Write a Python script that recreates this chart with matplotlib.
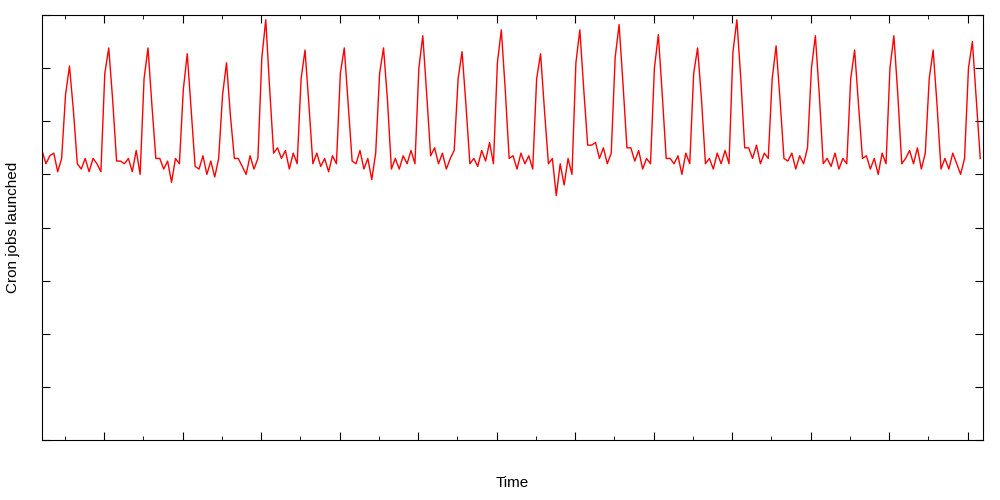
import numpy as np
import matplotlib.pyplot as plt

peaks = [7.04, 7.38, 7.38, 7.27, 7.10, 7.91, 7.34, 7.38, 7.38, 7.61, 7.31, 7.72,
         7.27, 7.72, 7.82, 7.63, 7.38, 7.91, 7.42, 7.61, 7.34, 7.61, 7.34, 7.50]
base = [
 [5.45, 5.2, 5.35, 5.4, 5.05, 5.3, 6.5],
 [5.1, 5.3, 5.05, 5.3, 5.2, 5.05, 6.9],
 [5.25, 5.2, 5.3, 5.05, 5.45, 5.0, 6.8],
 [5.3, 5.1, 5.25, 4.85, 5.3, 5.2, 6.6],
 [5.1, 5.35, 5.0, 5.25, 4.95, 5.3, 6.5],
 [5.3, 5.15, 5.0, 5.35, 5.1, 5.3, 7.2],
 [5.5, 5.3, 5.45, 5.1, 5.4, 5.2, 6.8],
 [5.4, 5.15, 5.3, 5.05, 5.35, 5.2, 6.9],
 [5.2, 5.45, 5.1, 5.3, 4.9, 5.4, 6.9],
 [5.3, 5.1, 5.35, 5.2, 5.45, 5.2, 7.0],
 [5.5, 5.2, 5.4, 5.1, 5.3, 5.45, 6.8],
 [5.3, 5.15, 5.45, 5.25, 5.6, 5.2, 7.1],
 [5.35, 5.1, 5.4, 5.2, 5.35, 5.1, 6.8],
 [5.3, 4.6, 5.2, 4.8, 5.3, 5.0, 7.1],
 [5.55, 5.6, 5.3, 5.5, 5.2, 5.4, 7.2],
 [5.5, 5.25, 5.45, 5.1, 5.3, 5.2, 7.0],
 [5.3, 5.2, 5.35, 5.0, 5.4, 5.2, 6.9],
 [5.3, 5.1, 5.4, 5.2, 5.45, 5.2, 7.3],
 [5.5, 5.3, 5.55, 5.2, 5.4, 5.3, 6.8],
 [5.25, 5.4, 5.1, 5.35, 5.2, 5.5, 7.0],
 [5.3, 5.15, 5.4, 5.1, 5.3, 5.2, 6.8],
 [5.35, 5.1, 5.3, 5.0, 5.4, 5.2, 7.0],
 [5.3, 5.45, 5.2, 5.5, 5.1, 5.4, 6.8],
 [5.3, 5.1, 5.4, 5.2, 5.0, 5.3, 7.0],
]
after = [[6.2, 5.2], [6.4, 5.25], [6.3, 5.3], [6.2, 5.15], [6.1, 5.3], [6.6, 5.4],
         [6.3, 5.2], [6.3, 5.25], [6.4, 5.1], [6.5, 5.35], [6.3, 5.2], [6.6, 5.3],
         [6.2, 5.2], [6.6, 5.55], [6.7, 5.5], [6.5, 5.3], [6.4, 5.2], [6.8, 5.5],
         [6.4, 5.3], [6.5, 5.2], [6.3, 5.3], [6.5, 5.2], [6.3, 5.1], [6.4, 5.3]]

y = []
for b, p, a in zip(base, peaks, after):
    y += b + [p] + a
y = np.array(y)
x = np.arange(len(y)) * 0.1

fig = plt.figure(figsize=(10, 5), dpi=100)
ax = fig.add_axes([0.042, 0.12, 0.941, 0.85])
ax.plot(x, y, color='red', lw=1)
ax.set_xlim(0, 23.97)
ax.set_ylim(0, 8)
ax.set_xticks(np.arange(1.58, 24, 2))
ax.set_xticks(np.arange(0.58, 24, 1), minor=True)
ax.set_yticks(np.arange(0, 9, 1))
ax.tick_params(which='both', direction='in', top=True, right=True,
               labelbottom=False, labelleft=False)
ax.tick_params(which='major', length=6)
ax.tick_params(which='minor', length=3)
ax.set_xlabel('Time', fontsize=11, family='Liberation Sans', labelpad=26)
ax.set_ylabel('Cron jobs launched', fontsize=11, family='Liberation Sans', labelpad=16)
fig.savefig('out.png')
